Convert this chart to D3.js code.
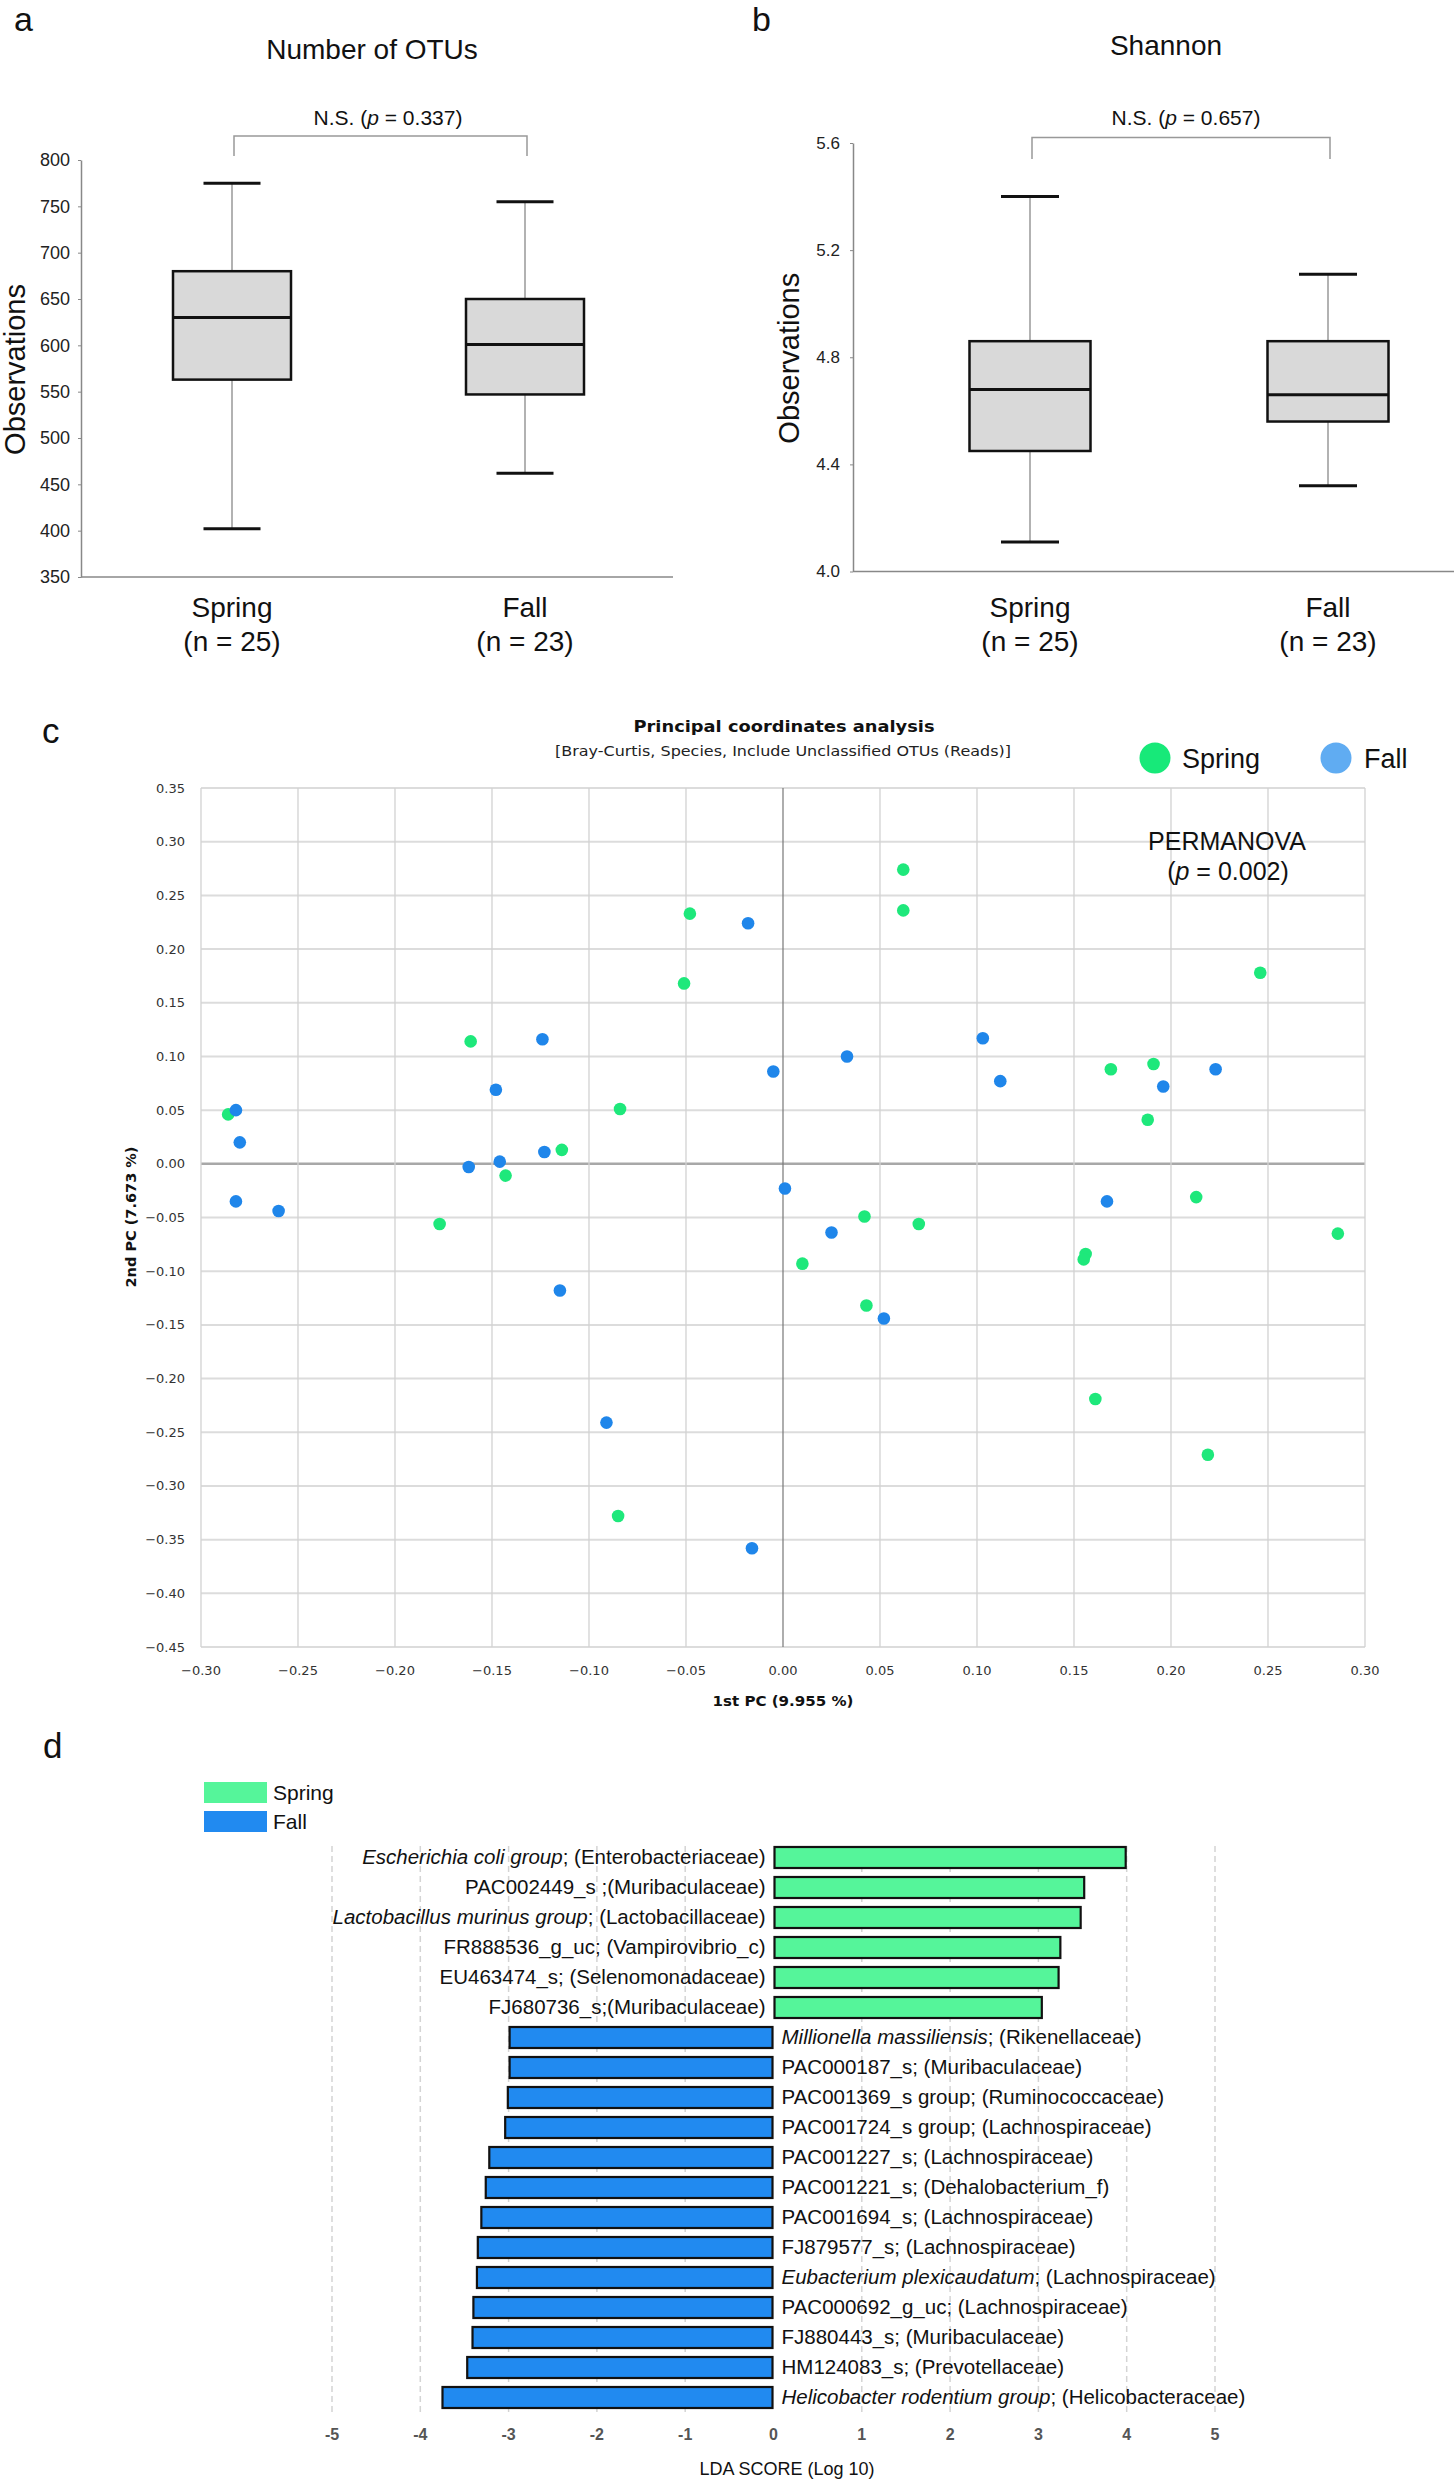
<!DOCTYPE html>
<html><head><meta charset="utf-8">
<script src="https://cdn.jsdelivr.net/npm/d3@7"></script>
<style>body{margin:0;background:#fff}svg{display:block}</style>
</head><body>
<svg id="chart" width="1454" height="2480"></svg>
<script>
// ---------------- DATA ----------------
const groups = ["Spring", "Fall"];
const groupN = ["(n = 25)", "(n = 23)"];

// Panel a: Number of OTUs (box stats)
const otuMin = [402, 462];
const otuQ1  = [563, 547];
const otuMed = [630, 601];
const otuQ3  = [680, 650];
const otuMax = [775, 755];
const otuTicks = [350, 400, 450, 500, 550, 600, 650, 700, 750, 800];

// Panel b: Shannon (box stats)
const shMin = [4.11, 4.32];
const shQ1  = [4.45, 4.56];
const shMed = [4.68, 4.66];
const shQ3  = [4.86, 4.86];
const shMax = [5.40, 5.11];
const shTicks = [4.0, 4.4, 4.8, 5.2, 5.6];

// Panel c: PCoA
const springPC1 = [-0.286, -0.177, -0.161, -0.143, -0.114, -0.084, -0.048, -0.051, 0.010, -0.085, 0.062, 0.062, 0.246, 0.169, 0.191, 0.188, 0.213, 0.042, 0.070, 0.286, 0.156, 0.155, 0.043, 0.161, 0.219];
const springPC2 = [0.046, -0.056, 0.114, -0.011, 0.013, 0.051, 0.233, 0.168, -0.093, -0.328, 0.274, 0.236, 0.178, 0.088, 0.093, 0.041, -0.031, -0.049, -0.056, -0.065, -0.084, -0.089, -0.132, -0.219, -0.271];
const fallPC1 = [-0.282, -0.280, -0.282, -0.260, -0.162, -0.148, -0.146, -0.124, -0.123, -0.115, -0.018, -0.005, 0.001, -0.091, -0.016, 0.103, 0.033, 0.112, 0.196, 0.223, 0.167, 0.025, 0.052];
const fallPC2 = [0.050, 0.020, -0.035, -0.044, -0.003, 0.069, 0.002, 0.116, 0.011, -0.118, 0.224, 0.086, -0.023, -0.241, -0.358, 0.117, 0.100, 0.077, 0.072, 0.088, -0.035, -0.064, -0.144];
const pcTicksX = [-0.30, -0.25, -0.20, -0.15, -0.10, -0.05, 0, 0.05, 0.10, 0.15, 0.20, 0.25, 0.30];
const pcTicksY = [-0.45, -0.40, -0.35, -0.30, -0.25, -0.20, -0.15, -0.10, -0.05, 0, 0.05, 0.10, 0.15, 0.20, 0.25, 0.30, 0.35];

// Panel d: LEfSe LDA
const ldaItalic = ["Escherichia coli group", "", "Lactobacillus murinus group", "", "", "", "Millionella massiliensis", "", "", "", "", "", "", "", "Eubacterium plexicaudatum", "", "", "", "Helicobacter rodentium group"];
const ldaRest = ["; (Enterobacteriaceae)", "PAC002449_s ;(Muribaculaceae)", "; (Lactobacillaceae)", "FR888536_g_uc; (Vampirovibrio_c)", "EU463474_s; (Selenomonadaceae)", "FJ680736_s;(Muribaculaceae)", "; (Rikenellaceae)", "PAC000187_s; (Muribaculaceae)", "PAC001369_s group; (Ruminococcaceae)", "PAC001724_s group; (Lachnospiraceae)", "PAC001227_s; (Lachnospiraceae)", "PAC001221_s; (Dehalobacterium_f)", "PAC001694_s; (Lachnospiraceae)", "FJ879577_s; (Lachnospiraceae)", "; (Lachnospiraceae)", "PAC000692_g_uc; (Lachnospiraceae)", "FJ880443_s; (Muribaculaceae)", "HM124083_s; (Prevotellaceae)", "; (Helicobacteraceae)"];
const ldaScore = [4.00, 3.53, 3.49, 3.26, 3.24, 3.05, -3.00, -3.00, -3.02, -3.05, -3.23, -3.27, -3.32, -3.36, -3.37, -3.41, -3.42, -3.48, -3.76];
const ldaGroup = ["Spring","Spring","Spring","Spring","Spring","Spring","Fall","Fall","Fall","Fall","Fall","Fall","Fall","Fall","Fall","Fall","Fall","Fall","Fall"];
const ldaTicks = [-5, -4, -3, -2, -1, 0, 1, 2, 3, 4, 5];

// ---------------- DRAW ----------------
const AR = "'Liberation Sans', Arial, sans-serif";
const TA = "'DejaVu Sans', Verdana, sans-serif";
const svg = d3.select("#chart");
svg.append("rect").attr("width", 1454).attr("height", 2480).attr("fill", "#fff");

function txt(x, y, s, size, opts = {}) {
  return svg.append("text").attr("x", x).attr("y", y).text(s)
    .attr("font-family", opts.font || AR).attr("font-size", size)
    .attr("font-weight", opts.weight || "normal")
    .attr("text-anchor", opts.anchor || "start").attr("fill", opts.fill || "#111");
}

// panel letters
txt(14, 31, "a", 34);
txt(752, 31, "b", 34);
txt(42, 743, "c", 35);
txt(43, 1758, "d", 35);

function boxPanel(cfg) {
  const y = d3.scaleLinear().domain(cfg.domain).range(cfg.yRange);
  const x = d3.scalePoint().domain(groups).range(cfg.xRange);
  const g = svg.append("g");
  const ax = g.append("g").attr("transform", `translate(${cfg.axisX},0)`)
    .call(d3.axisLeft(y).tickValues(cfg.ticks).tickFormat(cfg.fmt).tickSize(3).tickSizeOuter(0).tickPadding(cfg.pad));
  ax.select(".domain").attr("stroke", "#888").attr("stroke-width", 1.5);
  ax.selectAll(".tick line").attr("stroke", "#888");
  ax.selectAll(".tick text").attr("font-family", AR).attr("font-size", cfg.tickSize).attr("fill", "#222");
  g.append("line").attr("x1", cfg.axisX).attr("x2", cfg.axisEnd)
    .attr("y1", y(cfg.domain[0])).attr("y2", y(cfg.domain[0])).attr("stroke", "#888").attr("stroke-width", 1.5);
  groups.forEach((gr, i) => {
    const cx = x(gr);
    g.append("line").attr("x1", cx).attr("x2", cx).attr("y1", y(cfg.max[i])).attr("y2", y(cfg.min[i]))
      .attr("stroke", "#999").attr("stroke-width", 1.5);
    g.append("rect").attr("x", cx - cfg.boxW / 2).attr("width", cfg.boxW)
      .attr("y", y(cfg.q3[i])).attr("height", y(cfg.q1[i]) - y(cfg.q3[i]))
      .attr("fill", "#d9d9d9").attr("stroke", "#111").attr("stroke-width", 2.5);
    g.append("line").attr("x1", cx - cfg.boxW / 2).attr("x2", cx + cfg.boxW / 2)
      .attr("y1", y(cfg.med[i])).attr("y2", y(cfg.med[i])).attr("stroke", "#111").attr("stroke-width", 3);
    [cfg.max[i], cfg.min[i]].forEach(v => {
      g.append("line").attr("x1", cx - cfg.capW / 2).attr("x2", cx + cfg.capW / 2)
        .attr("y1", y(v)).attr("y2", y(v)).attr("stroke", "#111").attr("stroke-width", 3);
    });
    txt(cx, 617, gr, 28, { anchor: "middle" });
    txt(cx, 651, groupN[i], 28, { anchor: "middle" });
  });
  txt(cfg.titleX, cfg.titleY, cfg.title, 28, { anchor: "middle" });
  svg.append("text").attr("transform", `translate(${cfg.yTitleX},${(cfg.yRange[0] + cfg.yRange[1]) / 2 + 1}) rotate(-90)`)
    .attr("text-anchor", "middle").attr("font-family", AR).attr("font-size", 29).attr("fill", "#111").text("Observations");
  const x1 = x(groups[0]) + 2, x2 = x(groups[1]) + 2;
  g.append("path").attr("d", `M${x1},${cfg.brBot}V${cfg.brTop}H${x2}V${cfg.brBot}`)
    .attr("fill", "none").attr("stroke", "#999").attr("stroke-width", 1.5);
  const t = svg.append("text").attr("x", cfg.nsX).attr("y", 125).attr("text-anchor", "middle")
    .attr("font-family", AR).attr("font-size", 21).attr("fill", "#111");
  t.append("tspan").text("N.S. (");
  t.append("tspan").attr("font-style", "italic").text("p");
  t.append("tspan").text(" = " + cfg.p + ")");
}

boxPanel({
  domain: [350, 800], yRange: [577, 160], xRange: [232, 525], axisX: 81, axisEnd: 673,
  ticks: otuTicks, fmt: d3.format("d"), pad: 8, tickSize: 18,
  min: otuMin, q1: otuQ1, med: otuMed, q3: otuQ3, max: otuMax, boxW: 118, capW: 57,
  title: "Number of OTUs", titleX: 372, titleY: 59, yTitleX: 25,
  brTop: 136, brBot: 156, nsX: 388, p: "0.337"
});
boxPanel({
  domain: [4.0, 5.6], yRange: [571.5, 143], xRange: [1030, 1328], axisX: 853, axisEnd: 1454,
  ticks: shTicks, fmt: d3.format(".1f"), pad: 10, tickSize: 17,
  min: shMin, q1: shQ1, med: shMed, q3: shQ3, max: shMax, boxW: 121, capW: 58,
  title: "Shannon", titleX: 1166, titleY: 55, yTitleX: 799,
  brTop: 137.5, brBot: 159, nsX: 1186, p: "0.657"
});

// ---------------- Panel c ----------------
(function () {
  const x = d3.scaleLinear().domain([-0.30, 0.30]).range([201, 1365]);
  const y = d3.scaleLinear().domain([-0.45, 0.35]).range([1647, 788]);
  const g = svg.append("g");
  const f = d3.format(".2f");
  pcTicksY.forEach(v => {
    g.append("line").attr("x1", x(-0.30)).attr("x2", x(0.30)).attr("y1", y(v)).attr("y2", y(v))
      .attr("stroke", v === 0 ? "#a8a8a8" : "#dcdcdc").attr("stroke-width", v === 0 ? 2.5 : 2);
    txt(185, y(v) + 4.5, f(v), 13, { font: TA, anchor: "end", fill: "#333" });
  });
  pcTicksX.forEach(v => {
    g.append("line").attr("x1", x(v)).attr("x2", x(v)).attr("y1", y(0.35)).attr("y2", y(-0.45))
      .attr("stroke", v === 0 ? "#777" : "#d2d2d2").attr("stroke-width", v === 0 ? 1.2 : 1.3);
    txt(x(v), 1675, f(v), 13, { font: TA, anchor: "middle", fill: "#333" });
  });
  const sp = springPC1.map((d, i) => [d, springPC2[i]]);
  const fa = fallPC1.map((d, i) => [d, fallPC2[i]]);
  g.selectAll(".sp").data(sp).join("circle").attr("cx", d => x(d[0])).attr("cy", d => y(d[1]))
    .attr("r", 6.3).attr("fill", "#1ee87b");
  g.selectAll(".fa").data(fa).join("circle").attr("cx", d => x(d[0])).attr("cy", d => y(d[1]))
    .attr("r", 6.3).attr("fill", "#1f86ea");
  txt(784, 732, "Principal coordinates analysis", 15, { font: TA, weight: "bold", anchor: "middle" })
    .attr("textLength", 301).attr("lengthAdjust", "spacingAndGlyphs");
  txt(783, 756, "[Bray-Curtis, Species, Include Unclassified OTUs (Reads)]", 14, { font: TA, anchor: "middle", fill: "#222" })
    .attr("textLength", 456).attr("lengthAdjust", "spacingAndGlyphs");
  txt(783, 1706, "1st PC (9.955 %)", 14.5, { font: TA, weight: "bold", anchor: "middle" })
    .attr("textLength", 141).attr("lengthAdjust", "spacingAndGlyphs");
  svg.append("text").attr("transform", `translate(136,1217) rotate(-90)`).attr("text-anchor", "middle")
    .attr("font-family", TA).attr("font-size", 14.5).attr("font-weight", "bold").attr("fill", "#111")
    .attr("textLength", 141).attr("lengthAdjust", "spacingAndGlyphs").text("2nd PC (7.673 %)");
  svg.append("circle").attr("cx", 1155).attr("cy", 758).attr("r", 15.5).attr("fill", "#17e979");
  txt(1182, 768, "Spring", 27);
  svg.append("circle").attr("cx", 1336).attr("cy", 758).attr("r", 15.5).attr("fill", "#60acf2");
  txt(1364, 768, "Fall", 27);
  txt(1227, 850, "PERMANOVA", 25, { anchor: "middle" });
  const t = svg.append("text").attr("x", 1228).attr("y", 880).attr("text-anchor", "middle")
    .attr("font-family", AR).attr("font-size", 25).attr("fill", "#111");
  t.append("tspan").text("(");
  t.append("tspan").attr("font-style", "italic").text("p");
  t.append("tspan").text(" = 0.002)");
})();

// ---------------- Panel d ----------------
(function () {
  const labels = ldaRest.map((r, i) => ldaItalic[i] + r);
  const x = d3.scaleLinear().domain([-5, 5]).range([332, 1215]);
  const y = d3.scaleBand().domain(labels).range([1842.5, 2412.5]).paddingInner(0.233).paddingOuter(0.1165);
  const color = { Spring: "#55f59a", Fall: "#218af0" };
  const g = svg.append("g");
  ldaTicks.filter(t => t !== 0).forEach(t => {
    g.append("line").attr("x1", x(t)).attr("x2", x(t)).attr("y1", 1846).attr("y2", 2412)
      .attr("stroke", "#d4d4d4").attr("stroke-width", 1.5).attr("stroke-dasharray", "6,4");
  });
  labels.forEach((lab, i) => {
    const v = ldaScore[i];
    const x0 = Math.min(x(0), x(v)), w = Math.abs(x(v) - x(0));
    g.append("rect").attr("x", x0 + 1).attr("y", y(lab) + 1).attr("width", w - 2).attr("height", y.bandwidth() - 2)
      .attr("fill", color[ldaGroup[i]]).attr("stroke", "#111").attr("stroke-width", 2.2);
    const pos = v > 0;
    const t = svg.append("text").attr("x", pos ? x(0) - 8 : x(0) + 8).attr("y", y(lab) + y.bandwidth() / 2 + 6.5)
      .attr("text-anchor", pos ? "end" : "start").attr("font-family", AR).attr("font-size", 20.5).attr("fill", "#111");
    if (ldaItalic[i]) t.append("tspan").attr("font-style", "italic").text(ldaItalic[i]);
    t.append("tspan").text(ldaRest[i]);
  });
  ldaTicks.forEach(t => {
    txt(x(t), 2440, String(t), 16, { anchor: "middle", weight: "bold", fill: "#555" });
  });
  txt(787, 2475, "LDA SCORE (Log 10)", 18, { anchor: "middle" });
  svg.append("rect").attr("x", 204).attr("y", 1782).attr("width", 63).attr("height", 21).attr("fill", color.Spring);
  svg.append("rect").attr("x", 204).attr("y", 1811).attr("width", 63).attr("height", 21).attr("fill", color.Fall);
  txt(273, 1800, "Spring", 21);
  txt(273, 1829, "Fall", 21);
})();
</script>
</body></html>
